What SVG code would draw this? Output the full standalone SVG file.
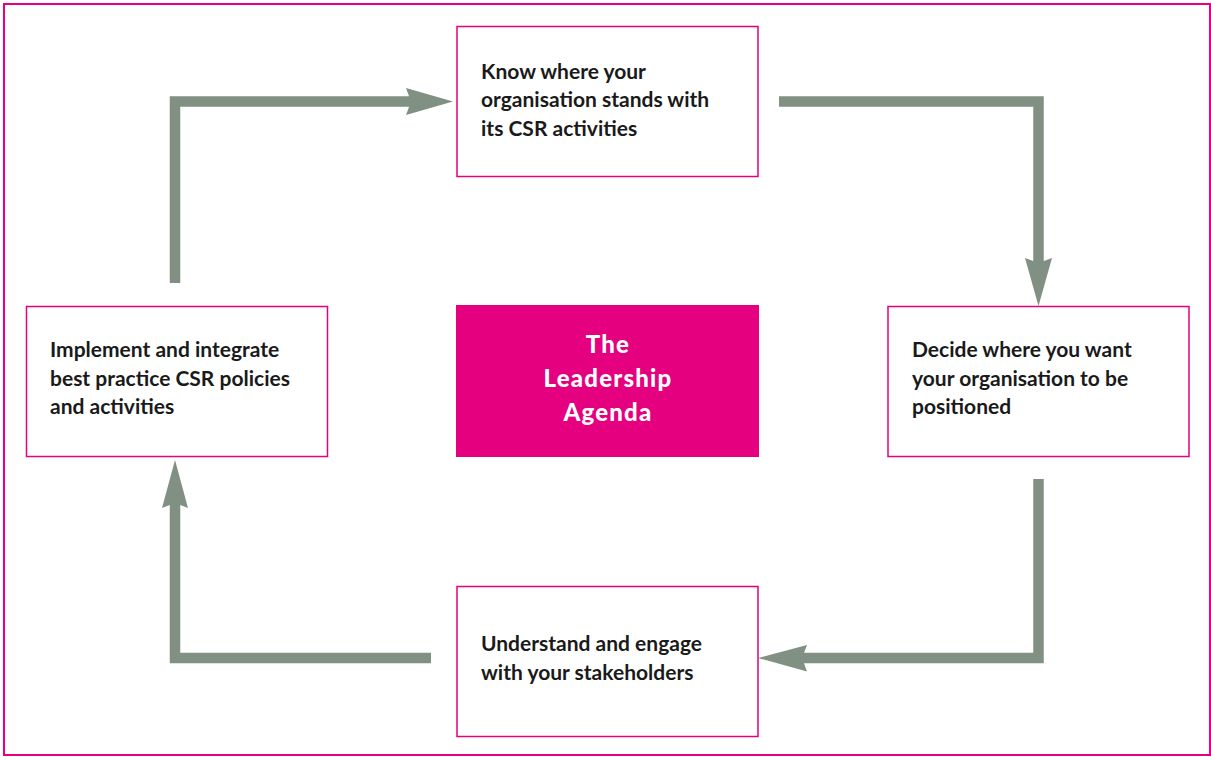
<svg xmlns="http://www.w3.org/2000/svg" width="1211" height="757" viewBox="0 0 1211 757">
<style>
.frame{fill:none;stroke:#e4007e;stroke-width:2}
.box{fill:#ffffff;stroke:#e4007e;stroke-width:1.5}
.hub{fill:#e4007e;stroke:none}
.lbl{font-family:Lato,"Open Sans","Liberation Sans",sans-serif;font-weight:700;font-size:21px;fill:#1a1a1a}
.hubtxt{font-family:Lato,"Open Sans","Liberation Sans",sans-serif;font-weight:900;font-size:24px;letter-spacing:1.2px;fill:#ffffff;text-anchor:middle}
.line{fill:none;stroke:#809082;stroke-width:10.5;stroke-linejoin:miter;stroke-linecap:butt}
.head{fill:#809082;stroke:none}
</style>
<rect width="1211" height="757" fill="#ffffff"/>
<rect class="frame" x="4" y="4" width="1206" height="751"/>
<g id="connectors">
<path class="line" d="M175,283 V101.5 H412"/>
<polygon class="head" points="406,88 453,101.5 406,115 411,101.5"/>
<path class="line" d="M779,101.5 H1038.5 V264"/>
<polygon class="head" points="1025,258 1038.5,306 1052,258 1038.5,263"/>
<path class="line" d="M1038.5,479 V658 H801"/>
<polygon class="head" points="807,645 758,658 807,671.5 802,658"/>
<path class="line" d="M431,658 H175 V503"/>
<polygon class="head" points="162,508 175,460 188,508 175,503"/>
</g>
<g id="node-know">
<rect class="box" x="457" y="26.5" width="301" height="150"/>
<text class="lbl" x="481" y="78.5">Know where your</text>
<text class="lbl" x="481" y="107">organisation stands with</text>
<text class="lbl" x="481" y="135.5">its CSR activities</text>
</g>
<g id="node-decide">
<rect class="box" x="888" y="306.5" width="301" height="150"/>
<text class="lbl" x="912" y="357">Decide where you want</text>
<text class="lbl" x="912" y="385.5">your organisation to be</text>
<text class="lbl" x="912" y="414">positioned</text>
</g>
<g id="node-understand">
<rect class="box" x="457" y="586.5" width="301" height="150"/>
<text class="lbl" x="481" y="651">Understand and engage</text>
<text class="lbl" x="481" y="679.5">with your stakeholders</text>
</g>
<g id="node-implement">
<rect class="box" x="26.5" y="306.5" width="301" height="150"/>
<text class="lbl" x="50" y="357">Implement and integrate</text>
<text class="lbl" x="50" y="385.5">best practice CSR policies</text>
<text class="lbl" x="50" y="414">and activities</text>
</g>
<g id="node-hub">
<rect class="hub" x="456" y="305" width="303" height="152"/>
<text class="hubtxt" x="608" y="352.5">The</text>
<text class="hubtxt" x="608" y="387">Leadership</text>
<text class="hubtxt" x="608" y="421">Agenda</text>
</g>
</svg>
